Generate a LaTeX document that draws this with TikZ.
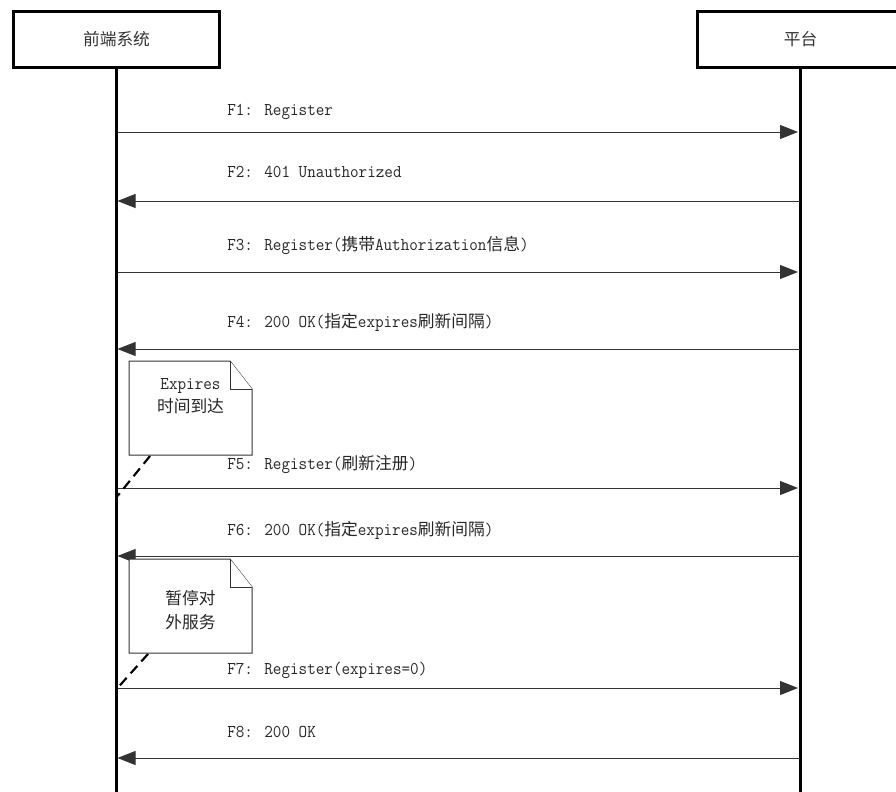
\documentclass[tikz,border=0pt]{standalone}
\usepackage{fontspec}
\setmainfont[FakeStretch=0.925]{Latin Modern Mono}
\newfontfamily\cjk[Scale=0.93]{Noto Sans CJK SC}
\usetikzlibrary{arrows.meta}

\tikzset{
  actor/.style={draw, line width=2.25pt, minimum width=154pt, minimum height=41.5pt, inner sep=0pt, text=black!80, font=\fontsize{13.5}{15}\selectfont},
  life/.style={line width=2.25pt},
  msg/.style={draw=black!80, line width=0.75pt, -{Triangle[length=13.5pt,width=10.5pt]}},
  msglabel/.style={anchor=west, inner sep=0.75pt, text=black!85, font=\fontsize{13.5}{15}\selectfont},
  notebox/.style={draw=black!80, line width=0.75pt, fill=white},
  notetext/.style={align=center, inner sep=0.75pt, text=black!85, font=\fontsize{13.5}{17.5}\selectfont},
  notelink/.style={line width=1.6pt, dash pattern={on 7.5pt off 4.5pt}}
}

\begin{document}
\begin{tikzpicture}[x=0.75pt,y=0.75pt,yscale=-1,xscale=1]
\useasboundingbox (0,0) rectangle (896,792);

% Actors
\node [actor] (fe) at (116.5,39.5) {{\cjk 前端系统}};
\node [actor] (pf) at (800.5,39.5) {{\cjk 平台}};
\coordinate (feEnd) at (116.5,796);
\coordinate (pfEnd) at (800.5,796);
% Lifelines
\draw [life] (fe.south) -- (feEnd);
\draw [life] (pf.south) -- (pfEnd);

% Message end points on the lifelines
\coordinate (fe1) at (117.5,132);  \coordinate (pf1) at (798,132);
\coordinate (fe2) at (117.5,201);  \coordinate (pf2) at (799.5,201);
\coordinate (fe3) at (117.5,272);  \coordinate (pf3) at (798,272);
\coordinate (fe4) at (117.5,349);  \coordinate (pf4) at (799.5,349);
\coordinate (fe5) at (117.5,488);  \coordinate (pf5) at (798,488);
\coordinate (fe6) at (117.5,556);  \coordinate (pf6) at (799.5,556);
\coordinate (fe7) at (117.5,688);  \coordinate (pf7) at (798,688);
\coordinate (fe8) at (117.5,758);  \coordinate (pf8) at (799.5,758);

% Messages
\draw [msg] (fe1) -- (pf1);
\draw [msg] (pf2) -- (fe2);
\draw [msg] (fe3) -- (pf3);
\draw [msg] (pf4) -- (fe4);
\draw [msg] (fe5) -- (pf5);
\draw [msg] (pf6) -- (fe6);
\draw [msg] (fe7) -- (pf7);
\draw [msg] (pf8) -- (fe8);

% Text Node
\node [msglabel] (m1) at (226,112) {F1: Register};
% Text Node
\node [msglabel] (m2) at (226,172) {F2: 401 Unauthorized};
% Text Node
\node [msglabel] (m3) at (226,245) {F3: Register({\cjk 携带}Authorization{\cjk 信息})};
% Text Node
\node [msglabel] (m4) at (226,322) {F4: 200 OK({\cjk 指定}expires{\cjk 刷新间隔})};
% Text Node
\node [msglabel] (m5) at (226,464) {F5: Register({\cjk 刷新注册})};
% Text Node
\node [msglabel] (m6) at (226,530) {F6: 200 OK({\cjk 指定}expires{\cjk 刷新间隔})};
% Text Node
\node [msglabel] (m7) at (226,670) {F7: Register(expires=0)};
% Text Node
\node [msglabel] (m8) at (226,732) {F8: 200 OK};

% Note: expires reached
\draw [notebox] (129,361) -- (230,361) -- (252,389) -- (252,455) -- (129,455) -- cycle ;
\draw [notebox] (230,361) -- (230,389) -- (252,389) ;
\node [notetext] (n1) at (190.5,396.5) {Expires\\{\cjk 时间到达}};
\coordinate (n1tail) at (150,456);
\coordinate (n1head) at (117.5,496);
\draw [notelink] (n1tail) -- (n1head);

% Note: stop service
\draw [notebox] (129,559) -- (230,559) -- (252,587) -- (252,653) -- (129,653) -- cycle ;
\draw [notebox] (230,559) -- (230,587) -- (252,587) ;
\node [notetext] (n2) at (190.5,610) {{\cjk 暂停对}\\{\cjk 外服务}};
\coordinate (n2tail) at (148,654);
\coordinate (n2head) at (117.5,688);
\draw [notelink] (n2tail) -- (n2head);

\end{tikzpicture}
\end{document}
